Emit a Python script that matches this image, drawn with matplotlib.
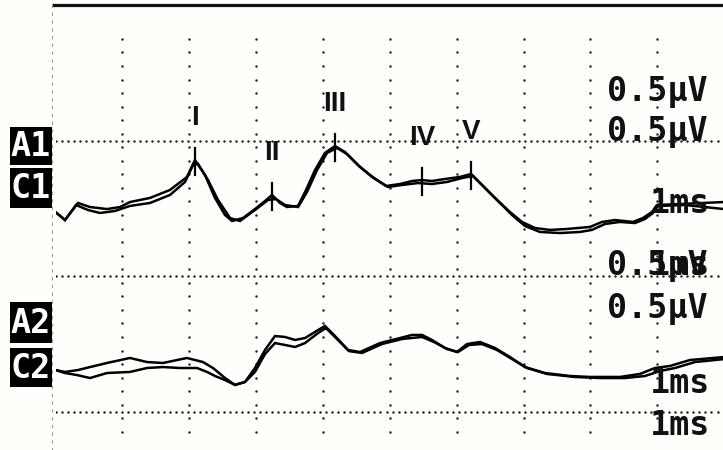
import numpy as np
import matplotlib
matplotlib.use("Agg")
import matplotlib.pyplot as plt
from matplotlib.patches import Rectangle

# Latency (ms) and trace level (grid divisions) for the four averaged sweeps
a1_ms = [0.0, 0.142, 0.336, 0.516, 0.770, 0.965, 1.114, 1.413, 1.712, 1.966,
         2.086, 2.236, 2.385, 2.535, 2.640, 2.804, 2.983, 3.133, 3.238, 3.357,
         3.462, 3.627, 3.746, 3.881, 4.030, 4.180, 4.329, 4.524, 4.733, 4.943,
         5.152, 5.331, 5.481, 5.630, 5.825, 6.049, 6.214, 6.348, 6.572, 6.797,
         6.976, 7.170, 7.395, 7.649, 7.993, 8.172, 8.367, 8.636, 8.785, 8.919,
         8.994, 9.338, 10.0]
a1_amp = [1.472, 1.413, 1.539, 1.509, 1.494, 1.509, 1.546, 1.576, 1.635, 1.731,
          1.856, 1.745, 1.576, 1.450, 1.406, 1.428, 1.494, 1.553, 1.598, 1.539,
          1.509, 1.517, 1.634, 1.782, 1.908, 1.959, 1.915, 1.819, 1.731, 1.664,
          1.679, 1.701, 1.708, 1.701, 1.716, 1.731, 1.753, 1.686, 1.576, 1.472,
          1.399, 1.354, 1.340, 1.347, 1.362, 1.399, 1.413, 1.399, 1.428, 1.472,
          1.524, 1.531, 1.546]

c1_ms = [0.0, 0.142, 0.307, 0.486, 0.665, 0.890, 1.114, 1.413, 1.712, 1.937,
         2.056, 2.131, 2.281, 2.430, 2.610, 2.759, 2.983, 3.178, 3.297, 3.432,
         3.627, 3.761, 3.911, 4.060, 4.210, 4.359, 4.554, 4.763, 4.973, 5.182,
         5.421, 5.630, 5.855, 6.079, 6.244, 6.379, 6.602, 6.827, 7.021, 7.245,
         7.544, 7.843, 8.022, 8.216, 8.441, 8.666, 8.815, 8.934, 9.009, 9.413,
         10.0]
c1_amp = [1.472, 1.413, 1.524, 1.487, 1.465, 1.480, 1.517, 1.539, 1.598, 1.694,
          1.819, 1.827, 1.708, 1.561, 1.428, 1.406, 1.487, 1.561, 1.568, 1.524,
          1.509, 1.620, 1.782, 1.908, 1.945, 1.900, 1.804, 1.723, 1.657, 1.672,
          1.686, 1.679, 1.694, 1.723, 1.738, 1.672, 1.561, 1.450, 1.369, 1.325,
          1.317, 1.325, 1.340, 1.384, 1.399, 1.391, 1.421, 1.465, 1.517, 1.524,
          1.494]

a2_ms = [0.0, 0.142, 0.336, 0.516, 0.770, 1.114, 1.368, 1.607, 1.966, 2.206,
         2.355, 2.535, 2.684, 2.834, 2.983, 3.133, 3.282, 3.432, 3.582, 3.731,
         3.926, 4.030, 4.180, 4.374, 4.554, 4.853, 5.152, 5.331, 5.481, 5.630,
         5.825, 6.004, 6.154, 6.348, 6.572, 6.797, 7.021, 7.320, 7.694, 7.993,
         8.441, 8.740, 8.964, 9.188, 9.488, 10.0]
a2_amp = [0.306, 0.292, 0.306, 0.328, 0.358, 0.395, 0.365, 0.358, 0.395, 0.365,
          0.321, 0.247, 0.196, 0.218, 0.321, 0.454, 0.557, 0.550, 0.528, 0.542,
          0.601, 0.631, 0.557, 0.454, 0.439, 0.505, 0.542, 0.565, 0.565, 0.528,
          0.469, 0.439, 0.498, 0.513, 0.469, 0.402, 0.328, 0.284, 0.262, 0.255,
          0.255, 0.277, 0.321, 0.336, 0.380, 0.402]

c2_ms = [0.0, 0.142, 0.321, 0.516, 0.770, 1.114, 1.368, 1.607, 1.862, 2.116,
         2.266, 2.385, 2.535, 2.684, 2.834, 2.983, 3.133, 3.282, 3.432, 3.582,
         3.731, 3.926, 4.045, 4.195, 4.389, 4.584, 4.882, 5.182, 5.481, 5.660,
         5.855, 6.019, 6.184, 6.378, 6.602, 6.827, 7.051, 7.350, 7.768, 8.141,
         8.516, 8.815, 9.040, 9.264, 9.563, 10.0]
c2_amp = [0.306, 0.284, 0.269, 0.247, 0.284, 0.292, 0.321, 0.328, 0.321, 0.321,
          0.292, 0.262, 0.232, 0.196, 0.218, 0.292, 0.424, 0.505, 0.491, 0.476,
          0.505, 0.579, 0.616, 0.542, 0.446, 0.432, 0.498, 0.535, 0.550, 0.513,
          0.461, 0.439, 0.491, 0.498, 0.454, 0.387, 0.321, 0.277, 0.255, 0.247,
          0.247, 0.262, 0.299, 0.321, 0.365, 0.387]

# Wave markers on the first channel
peak_names = ["I", "II", "III", "IV", "V"]
peak_ms = [2.086, 3.238, 4.180, 5.481, 6.214]

channel_labels = ["A1", "C1", "A2", "C2"]
scale_labels = ["0.5μV", "0.5μV", "1ms", "0.5μV", "1ms", "0.5μV", "1ms", "1ms"]

W, H = 723, 450
bg = "#fffefa"
fig = plt.figure(figsize=(W / 100, H / 100), dpi=100, facecolor=bg)

# Screen grid: 1 ms per vertical division, horizontal rules 1 division apart
x0_px, px_per_ms = 55.5, 66.87
base_px, px_per_div = 411.5, 135.5
ax = fig.add_axes([x0_px / W, 0, 10 * px_per_ms / W, 1])
ax.set_xlim(0, 10)
ax.set_ylim(-(H - base_px) / px_per_div, base_px / px_per_div)
ax.set_facecolor(bg)
ax.axis("off")

dot = dict(ls="none", marker="o", ms=1.8, mew=0, color="#262626")
ydots = np.arange(1, 31) * 0.1 - 0.25
for gx in range(1, 10):
    ax.plot(np.full_like(ydots, gx), ydots, **dot)
xdots = np.arange(0.0, 10.0, 0.09)
for gy in (0, 1, 2):
    ax.plot(xdots, np.full_like(xdots, gy), **dot)
ax.plot([-0.05, 10], [3.0, 3.0], color="#111", lw=2.3, solid_capstyle="butt",
        clip_on=False)
ax.plot([-0.05, -0.05], [-0.3, 3.0], color="#9a9a9a", lw=0.8, ls=(0, (3, 4)),
        clip_on=False)

trace = dict(color="black", lw=1.8, solid_joinstyle="miter")
ax.plot(a1_ms, a1_amp, **trace)
ax.plot(c1_ms, c1_amp, **trace)
ax.plot(a2_ms, a2_amp, **trace)
ax.plot(c2_ms, c2_amp, **trace)

for name, t in zip(peak_names, peak_ms):
    y = np.interp(t, a1_ms, a1_amp)
    ax.plot([t, t], [y - 0.11, y + 0.09], color="black", lw=1.6)
    ax.text(t, y + 0.31, name, ha="center", va="center", fontsize=20,
            fontweight="bold", family=["Liberation Sans", "DejaVu Sans"],
            color="#111")

# Overlay in pixel coordinates for the screen captions
ov = fig.add_axes([0, 0, 1, 1])
ov.set_xlim(0, W)
ov.set_ylim(H, 0)
ov.axis("off")
ov.patch.set_alpha(0)

boxes = [(127, 165), (168, 208), (302, 343), (348, 387)]
for lab, (top, bot) in zip(channel_labels, boxes):
    ov.add_patch(Rectangle((10, top), 42, bot - top, color="black", lw=0))
    ov.text(31, (top + bot) / 2 + 1, lab, ha="center", va="center",
            color="white", fontsize=24, fontweight="bold",
            family=["DejaVu Sans Mono"])

scale_pos = [(607, 101), (607, 141), (650, 213), (607, 275), (650, 275),
             (607, 318), (650, 393), (650, 435)]
for lab, (x, yb) in zip(scale_labels, scale_pos):
    ov.text(x, yb, lab, ha="left", va="baseline", fontsize=24,
            fontweight="bold", family=["DejaVu Sans Mono"], color="#111")

fig.savefig("out.png", dpi=100, facecolor=bg)
